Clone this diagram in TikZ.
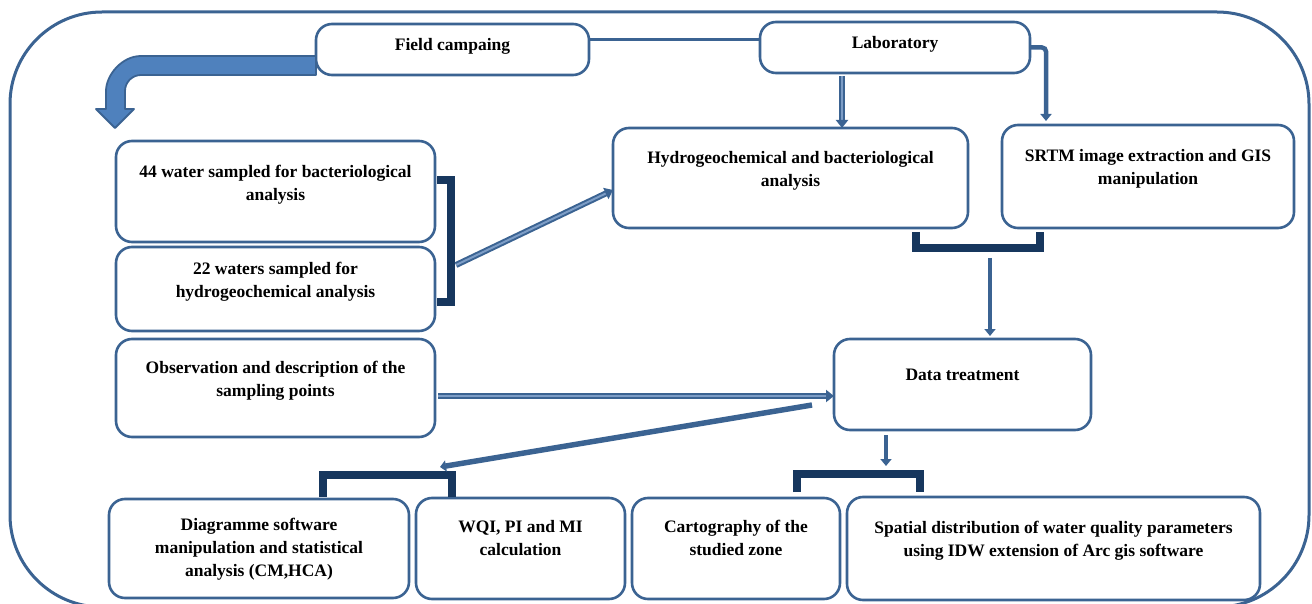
\documentclass[tikz,border=0pt]{standalone}
\usepackage{fontspec}
\setmainfont{Liberation Serif}
\usetikzlibrary{arrows.meta, positioning, calc}

\definecolor{boxblue}{HTML}{3B6392}
\definecolor{fillblue}{HTML}{4F81BD}
\definecolor{navy}{HTML}{17375E}
\definecolor{lightline}{HTML}{7D9DC6}

\begin{document}
\begin{tikzpicture}[x=1pt, y=-1pt,
    box/.style={rectangle, rounded corners=16pt, draw=boxblue, line width=2.6pt, fill=white,
                align=center, inner sep=0pt, outer sep=0pt, text height=57pt, text depth=44pt,
                font=\fontsize{17.5}{23}\selectfont\bfseries},
    arrow/.style={-{Triangle[length=7pt, width=11pt]}, draw=boxblue, line width=4.5pt},
    dblarrow/.style={-{Triangle[length=8pt, width=12pt]}, draw=boxblue, double=lightline,
                line width=2pt, double distance=2pt},
    bracket/.style={draw=navy, line width=8pt}
]
    \useasboundingbox (0,0) rectangle (1312,604);
    \clip (0,0) rectangle (1312,604);
    % outer frame
    \draw[boxblue, line width=3pt, rounded corners=92pt] (10,12) rectangle (1309,607);

    \node[box, minimum width=273pt, text height=27pt, text depth=24pt, anchor=north west] (field) at (316,24) {Field campaing};
    \node[box, minimum width=270pt, text height=27pt, text depth=24pt, anchor=north west] (lab) at (760,22) {Laboratory};
    \node[box, minimum width=355pt, text height=59pt, text depth=41pt, anchor=north west] (hydro) at (613,128) {Hydrogeochemical and bacteriological\\analysis};
    \node[box, minimum width=292pt, text height=60pt, text depth=43pt, anchor=north west] (srtm) at (1002,125) {SRTM image extraction and GIS\\manipulation};
    \node[box, minimum width=319pt, text height=60pt, text depth=41pt, anchor=north west] (w44) at (116,141) {44 water sampled for bacteriological\\analysis};
    \node[box, minimum width=319pt, text height=50pt, text depth=34pt, below=5pt of w44] (w22) {22 waters sampled for\\hydrogeochemical analysis};
    \node[box, minimum width=319pt, text height=57pt, text depth=41pt, below=8pt of w22] (obs) {Observation and description of the\\sampling points};
    \node[box, minimum width=257pt, text height=41pt, text depth=50pt, anchor=north west] (data) at (834,339) {Data treatment};
    \node[box, minimum width=300pt, text height=77pt, text depth=22pt, anchor=north west] (diag) at (109,499) {Diagramme software\\manipulation and statistical\\analysis (CM,HCA)};
    \node[box, minimum width=209pt, right=7pt of diag] (wqi) {WQI, PI and MI\\calculation};
    \node[box, minimum width=208pt, right=7pt of wqi] (carto) {Cartography of the\\studied zone};
    \node[box, minimum width=413pt, text height=59pt, right=7pt of carto] (spatial) {Spatial distribution of water quality parameters\\using IDW extension of Arc gis software};

    % bent block arrow
    \draw[draw=boxblue, fill=fillblue, line width=1.8pt, line join=round]
        (field.west |- 0,56) -- (141,56) .. controls (121.7,56) and (106,75.3) .. (106,91)
        -- (106,109) -- (96,109) -- (115,128) -- (134,109) -- (125,109) -- (125,91)
        .. controls (125,82.2) and (132.2,75) .. (141,75) -- (field.west |- 0,75) -- cycle;

    % brackets
    \draw[bracket] (437,180) -| (451,302) -- (437,302);
    \draw[bracket] (916,232) |- (1040,248.5) -- (1040,232);
    \draw[bracket] (323,497) |- (452,475) -- (452,497);
    \draw[bracket] (797,492) |- (920,473.5) -- (920,492);

    \coordinate (brka) at (456,265);
    \coordinate (brkb) at (990,258);
    \coordinate (dtl) at (812,405);
    \coordinate (brkc) at (440,467);
    \coordinate (brkd) at (886,466);

    \draw[boxblue, line width=3pt] (field.east |- 0,40) -- (lab.west |- 0,40);
    \draw[dblarrow, shorten <=3pt] (lab.south -| 842,0) -- (hydro.north -| 842,0);
    \draw[arrow, rounded corners=4pt, shorten >=4pt] (lab.east) -| (srtm.north -| 1046,0);
    \draw[dblarrow] (brka) -- (hydro.west |- 0,190);
    \draw[arrow, shorten >=3pt] (brkb) -- (data.north -| brkb);
    \draw[dblarrow, shorten <=3pt] (obs.east |- 0,396) -- (data.west |- 0,396);
    \draw[arrow, line width=5.5pt, -{Triangle[length=6pt, width=11pt]}] (dtl) -- (brkc);
    \draw[arrow, shorten <=5pt] (data.south -| brkd) -- (brkd);
\end{tikzpicture}
\end{document}
